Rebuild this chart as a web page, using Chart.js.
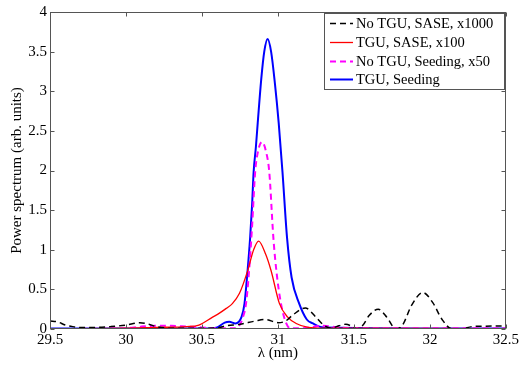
<!DOCTYPE html>
<html><head><meta charset="utf-8">
<script src="https://cdn.jsdelivr.net/npm/chart.js@4.4.1/dist/chart.umd.min.js"></script>
<style>html,body{margin:0;padding:0;background:#fff;}</style>
</head><body>
<canvas id="c" width="521" height="367" style="display:block;width:521px;height:367px"></canvas>
<script>
// ---- data ----
const seriesLabels = ['No TGU, SASE, x1000', 'TGU, SASE, x100', 'No TGU, Seeding, x50', 'TGU, Seeding'];
const xTickValues = [29.5, 30, 30.5, 31, 31.5, 32, 32.5];
const yTickValues = [0, 0.5, 1, 1.5, 2, 2.5, 3, 3.5, 4];

const noTguSaseX = [29.5, 29.55, 29.6, 29.65, 29.7, 29.8, 29.9, 30.0, 30.09, 30.15, 30.2, 30.3, 30.4, 30.5, 30.6, 30.66, 30.75, 30.85, 30.92, 31.0, 31.05, 31.1, 31.18, 31.25, 31.3, 31.35, 31.4, 31.447, 31.49, 31.52, 31.56, 31.6, 31.66, 31.72, 31.775, 31.82, 31.88, 31.954, 32.02, 32.08, 32.146, 32.21, 32.275, 32.35, 32.5];
const noTguSaseY = [0.1, 0.09, 0.05, 0.03, 0.02, 0.02, 0.03, 0.05, 0.08, 0.06, 0.03, 0.01, 0.01, 0.01, 0.015, 0.04, 0.06, 0.1, 0.12, 0.08, 0.1, 0.18, 0.265, 0.15, 0.05, 0.01, 0.04, 0.06, 0.03, 0.0, 0.05, 0.17, 0.25, 0.14, 0.0, 0.05, 0.3, 0.46, 0.33, 0.12, 0.0, 0.0, 0.03, 0.035, 0.04];

const tguSaseX = [29.5, 30.0, 30.2, 30.4, 30.48, 30.57, 30.615, 30.66, 30.70, 30.747, 30.80, 30.84, 30.873, 30.92, 30.955, 31.01, 31.064, 31.12, 31.2, 31.3, 32.5];
const tguSaseY = [0.005, 0.01, 0.02, 0.03, 0.05, 0.15, 0.2, 0.26, 0.32, 0.45, 0.73, 1.0, 1.11, 0.94, 0.735, 0.32, 0.15, 0.07, 0.02, 0.01, 0.005];

const noTguSeedX = [29.5, 29.9, 30.0, 30.1, 30.2, 30.3, 30.4, 30.5, 30.6, 30.7, 30.74, 30.77, 30.79, 30.81, 30.83, 30.85, 30.87, 30.895, 30.92, 30.943, 30.97, 30.99, 31.02, 31.055, 31.08, 31.15, 31.3, 31.4, 31.5, 32.5];
const noTguSeedY = [0.0, 0.005, 0.01, 0.03, 0.04, 0.04, 0.03, 0.02, 0.01, 0.01, 0.03, 0.15, 0.32, 0.73, 1.3, 1.98, 2.25, 2.36, 2.25, 1.98, 1.15, 0.73, 0.32, 0.07, 0.01, 0.01, 0.04, 0.02, 0.01, 0.01];

const tguSeedX = [29.5, 30.55, 30.6, 30.65, 30.68, 30.72, 30.76, 30.78, 30.80, 30.817, 30.83, 30.84, 30.855, 30.867, 30.89, 30.91, 30.932, 30.955, 30.98, 31.005, 31.03, 31.06, 31.09, 31.14, 31.19, 31.23, 31.3, 32.5];
const tguSeedY = [0.005, 0.005, 0.02, 0.08, 0.09, 0.07, 0.15, 0.32, 0.73, 1.15, 1.57, 1.98, 2.3, 2.6, 3.15, 3.5, 3.66, 3.5, 3.1, 2.6, 1.98, 1.15, 0.65, 0.32, 0.12, 0.07, 0.02, 0.005];

const pts = (xs, ys) => xs.map((x, i) => ({x: x, y: ys[i]}));
const FONT = '"Liberation Serif", "Times New Roman", serif';
const AXIS_COLOR = '#555';

const boxPlugin = {
  id: 'matlabBox',
  afterDraw(chart) {
    const {ctx, chartArea: a, scales} = chart;
    const L = Math.round(a.left) + 0.5, R = Math.round(a.right) - 0.5;
    const T = Math.round(a.top) + 0.5, B = Math.round(a.bottom) - 0.5;
    ctx.save();
    ctx.strokeStyle = AXIS_COLOR;
    ctx.lineWidth = 1;
    ctx.strokeRect(L, T, R - L, B - T);
    const tl = 4;
    ctx.beginPath();
    xTickValues.forEach(v => {
      const px = Math.round(scales.x.getPixelForValue(v)) + 0.5;
      ctx.moveTo(px, B); ctx.lineTo(px, B - tl);
      ctx.moveTo(px, T); ctx.lineTo(px, T + tl);
    });
    yTickValues.forEach(v => {
      const py = Math.round(scales.y.getPixelForValue(v)) + 0.5;
      ctx.moveTo(L, py); ctx.lineTo(L + tl, py);
      ctx.moveTo(R, py); ctx.lineTo(R - tl, py);
    });
    ctx.stroke();

    // legend
    const lx = 324.5, ly = 13.5, lw = 180, lh = 76;
    ctx.fillStyle = '#fff';
    ctx.fillRect(lx, ly, lw, lh);
    ctx.strokeStyle = AXIS_COLOR;
    ctx.strokeRect(lx, ly, lw, lh);
    const rows = [23, 42, 61, 79];
    ctx.font = '14.5px ' + FONT;
    ctx.textBaseline = 'middle';
    ctx.textAlign = 'left';
    chart.data.datasets.forEach((ds, i) => {
      const y = rows[i] + 0.5;
      ctx.beginPath();
      ctx.strokeStyle = ds.borderColor;
      ctx.lineWidth = ds.borderWidth;
      ctx.setLineDash(ds.borderDash || []);
      ctx.moveTo(330, y); ctx.lineTo(353, y);
      ctx.stroke();
      ctx.setLineDash([]);
      ctx.fillStyle = '#000';
      ctx.fillText(ds.label, 356, rows[i] + 1);
    });
    ctx.restore();
  }
};

new Chart(document.getElementById('c'), {
  type: 'line',
  data: {
    datasets: [
      {label: seriesLabels[0], data: pts(noTguSaseX, noTguSaseY), borderColor: '#000000', borderWidth: 1.5, borderDash: [6, 4]},
      {label: seriesLabels[1], data: pts(tguSaseX, tguSaseY), borderColor: '#ff0000', borderWidth: 1.3},
      {label: seriesLabels[2], data: pts(noTguSeedX, noTguSeedY), borderColor: '#ff00ff', borderWidth: 2, borderDash: [6, 4]},
      {label: seriesLabels[3], data: pts(tguSeedX, tguSeedY), borderColor: '#0000ff', borderWidth: 2}
    ].map(d => Object.assign({pointRadius: 0, fill: false, cubicInterpolationMode: 'monotone'}, d))
  },
  options: {
    responsive: false,
    animation: false,
    devicePixelRatio: 1,
    layout: {padding: {left: 0, right: 14, top: 8, bottom: 0}},
    plugins: {legend: {display: false}, tooltip: {enabled: false}},
    scales: {
      x: {
        type: 'linear', min: 29.5, max: 32.5,
        afterBuildTicks: s => { s.ticks = xTickValues.map(v => ({value: v})); },
        afterFit: s => { s.height = 38; },
        grid: {display: false, drawTicks: false}, border: {display: false},
        ticks: {color: '#000', font: {family: FONT, size: 15}, padding: 2, maxRotation: 0, autoSkip: false, callback: v => String(v)},
        title: {display: true, text: 'λ (nm)', color: '#000', font: {family: FONT, size: 15}, padding: {top: 0, bottom: 5}}
      },
      y: {
        type: 'linear', min: 0, max: 4,
        afterBuildTicks: s => { s.ticks = yTickValues.map(v => ({value: v})); },
        afterFit: s => { s.width = 50; },
        grid: {display: false, drawTicks: false}, border: {display: false},
        ticks: {color: '#000', font: {family: FONT, size: 15}, padding: 3, autoSkip: false, callback: v => String(v)},
        title: {display: true, text: 'Power spectrum (arb. units)', color: '#000', font: {family: FONT, size: 15}, padding: {top: 8, bottom: 0}}
      }
    }
  },
  plugins: [boxPlugin]
});
</script>
</body></html>
